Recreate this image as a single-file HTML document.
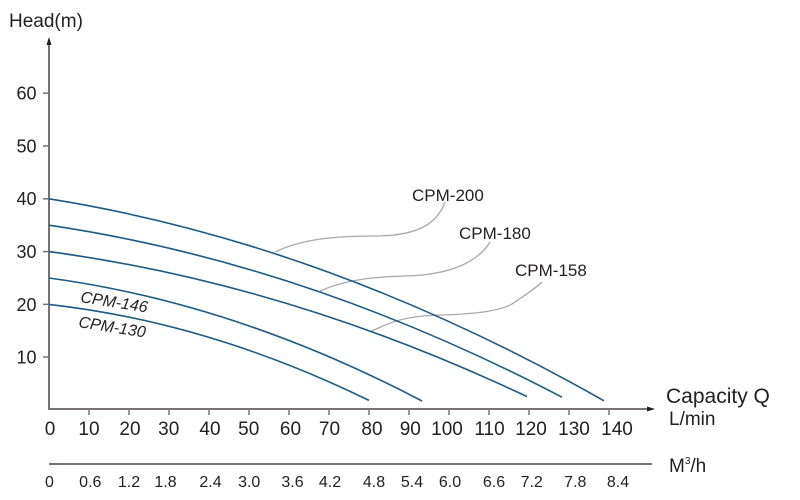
<!DOCTYPE html>
<html>
<head>
<meta charset="utf-8">
<style>
html,body{margin:0;padding:0;background:#fff;}
svg{display:block;}
text{font-family:"Liberation Sans",Arial,sans-serif;fill:#231f20;}
</style>
</head>
<body>
<svg width="800" height="500" viewBox="0 0 800 500" xmlns="http://www.w3.org/2000/svg">
  <!-- Head label -->
  <text x="9" y="27" font-size="19">Head(m)</text>

  <!-- Y axis -->
  <line x1="49" y1="42" x2="49" y2="410" stroke="#77726f" stroke-width="2"/>
  <polygon points="49,37 46.5,45 51.5,45" fill="#231f20"/>
  <!-- X axis -->
  <line x1="48" y1="409" x2="650" y2="409" stroke="#77726f" stroke-width="2"/>
  <polygon points="655,409 647,406.5 647,411.5" fill="#231f20"/>

  <!-- Y ticks & labels -->
  <g stroke="#77726f" stroke-width="1.5">
    <line x1="43" y1="357" x2="49" y2="357"/>
    <line x1="43" y1="304.4" x2="49" y2="304.4"/>
    <line x1="43" y1="251.6" x2="49" y2="251.6"/>
    <line x1="43" y1="198.8" x2="49" y2="198.8"/>
    <line x1="43" y1="146" x2="49" y2="146"/>
    <line x1="43" y1="93.2" x2="49" y2="93.2"/>
  </g>
  <g font-size="18" text-anchor="end">
    <text x="36.5" y="363.5">10</text>
    <text x="36.5" y="310.8">20</text>
    <text x="36.5" y="258">30</text>
    <text x="36.5" y="205.2">40</text>
    <text x="36.5" y="152.4">50</text>
    <text x="36.5" y="99.6">60</text>
  </g>

  <!-- X ticks -->
  <g stroke="#77726f" stroke-width="1.5">
    <line x1="89" y1="409" x2="89" y2="415"/>
    <line x1="129" y1="409" x2="129" y2="415"/>
    <line x1="169" y1="409" x2="169" y2="415"/>
    <line x1="209" y1="409" x2="209" y2="415"/>
    <line x1="249" y1="409" x2="249" y2="415"/>
    <line x1="289" y1="409" x2="289" y2="415"/>
    <line x1="329" y1="409" x2="329" y2="415"/>
    <line x1="369" y1="409" x2="369" y2="415"/>
    <line x1="409" y1="409" x2="409" y2="415"/>
    <line x1="449" y1="409" x2="449" y2="415"/>
    <line x1="489" y1="409" x2="489" y2="415"/>
    <line x1="529" y1="409" x2="529" y2="415"/>
    <line x1="569" y1="409" x2="569" y2="415"/>
    <line x1="609" y1="409" x2="609" y2="415"/>
  </g>
  <g font-size="19" text-anchor="middle">
    <text x="50" y="435">0</text>
    <text x="89" y="435">10</text>
    <text x="130" y="435">20</text>
    <text x="168.7" y="435">30</text>
    <text x="210" y="435">40</text>
    <text x="248.7" y="435">50</text>
    <text x="290.5" y="435">60</text>
    <text x="329.5" y="435">70</text>
    <text x="372" y="435">80</text>
    <text x="410.3" y="435">90</text>
    <text x="447" y="435">100</text>
    <text x="489.5" y="435">110</text>
    <text x="531" y="435">120</text>
    <text x="574" y="435">130</text>
    <text x="617" y="435">140</text>
  </g>

  <!-- Capacity labels -->
  <text x="666" y="403" font-size="21">Capacity Q</text>
  <text x="669" y="425" font-size="19">L/min</text>

  <!-- Second axis -->
  <line x1="49" y1="464" x2="652" y2="464" stroke="#77726f" stroke-width="2"/>
  <text x="669" y="472" font-size="19">M<tspan font-size="10" dy="-8">3</tspan><tspan dy="8">/h</tspan></text>
  <g font-size="16" text-anchor="middle">
    <text x="49.5" y="487">0</text>
    <text x="90.3" y="487">0.6</text>
    <text x="129" y="487">1.2</text>
    <text x="165.5" y="487">1.8</text>
    <text x="210.5" y="487">2.4</text>
    <text x="249.2" y="487">3.0</text>
    <text x="292.5" y="487">3.6</text>
    <text x="330" y="487">4.2</text>
    <text x="374" y="487">4.8</text>
    <text x="412" y="487">5.4</text>
    <text x="450" y="487">6.0</text>
    <text x="494" y="487">6.6</text>
    <text x="531.7" y="487">7.2</text>
    <text x="575.3" y="487">7.8</text>
    <text x="618" y="487">8.4</text>
  </g>

  <!-- Leader lines -->
  <g fill="none" stroke="#a9a9a9" stroke-width="1.3">
    <path d="M275,252 C300,240 330,236 375,236 C420,236 438,222 445,202"/>
    <path d="M320,291 C340,282 365,277 405,276 C450,275 478,262 490,242"/>
    <path d="M370,332 C390,322 405,316 440,315 C480,314 505,310 515,302 C528,293 536,288 542,282"/>
  </g>

  <!-- Curves -->
  <g fill="none" stroke="#1d5a86" stroke-width="1.6">
    <path d="M49,198.8 Q326.5,243.2 604,400.8"/>
    <path d="M49,225.2 Q305.5,263.1 562,397.2"/>
    <path d="M49,251.6 Q288,283.6 527,396.6"/>
    <path d="M49,278 Q235.5,303.2 422,401"/>
    <path d="M49,304.4 Q209,322.4 369,400.4"/>
  </g>

  <!-- Curve labels -->
  <g font-size="17">
    <text x="412" y="201">CPM-200</text>
    <text x="459" y="239">CPM-180</text>
    <text x="515" y="276">CPM-158</text>
  </g>
  <g font-size="16" font-style="italic">
    <text x="80" y="302" transform="rotate(9 80 302)">CPM-146</text>
    <text x="78" y="327" transform="rotate(9 78 327)">CPM-130</text>
  </g>
</svg>
</body>
</html>
